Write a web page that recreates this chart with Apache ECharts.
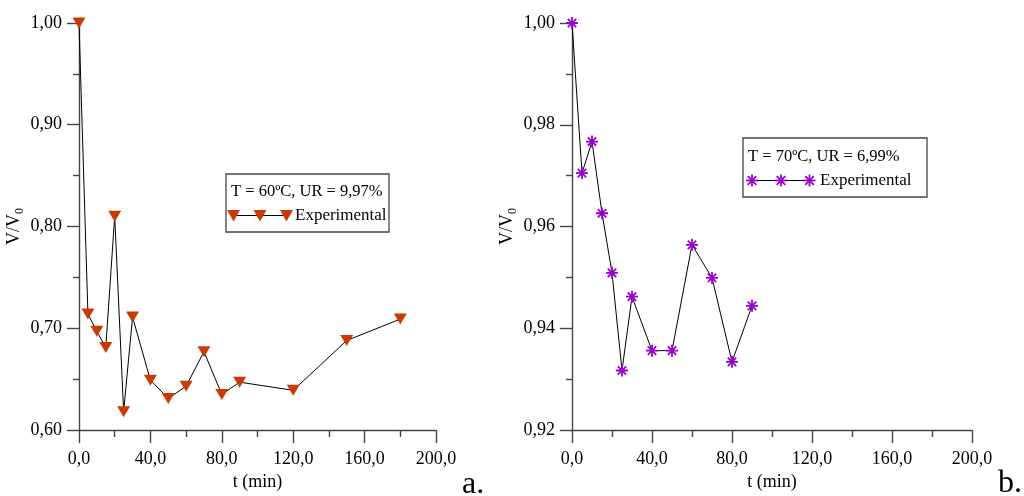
<!DOCTYPE html>
<html>
<head>
<meta charset="utf-8">
<script src="https://cdn.jsdelivr.net/npm/echarts@6/dist/echarts.min.js"></script>
<style>
  html, body { margin: 0; padding: 0; background: #fff; }
  #chart { width: 1024px; height: 496px; }
</style>
</head>
<body>
<div id="chart"></div>
<script>
// ---- data ----
const timeA = [0, 5, 10, 15, 20, 25, 30, 40, 50, 60, 70, 80, 90, 120, 150, 180];
const ratioA = [1.000, 0.714, 0.697, 0.681, 0.810, 0.618, 0.711, 0.649, 0.631, 0.643, 0.677, 0.635, 0.647, 0.639, 0.688, 0.709];
const timeB = [0, 5, 10, 15, 20, 25, 30, 40, 50, 60, 70, 80, 90];
const ratioB = [1.000, 0.9705, 0.9767, 0.9626, 0.9509, 0.9317, 0.9462, 0.9356, 0.9356, 0.9564, 0.9499, 0.9334, 0.9444];
const legendTitleA = 'T = 60ºC, UR = 9,97%';
const legendTitleB = 'T = 70ºC, UR = 6,99%';
const seriesName = 'Experimental';
const xName = 't (min)';
const panelLabels = ['a.', 'b.'];

const FONT = '"Liberation Serif", "Times New Roman", serif';
const AXIS_COLOR = '#444';
const RED = '#cc3a00';
const PURPLE = '#9b00d3';
const ASTERISK = 'path://M10,0L10,20M0,10L20,10M3,3L17,17M3,17L17,3';

const chart = echarts.init(document.getElementById('chart'), null, { renderer: 'canvas' });

function xAxisCfg(gridIndex) {
  return {
    type: 'value', gridIndex, min: 0, max: 200, interval: 40,
    name: xName, nameLocation: 'middle', nameGap: 38,
    nameTextStyle: { fontFamily: FONT, fontSize: 18, color: '#000' },
    axisLine: { show: true, onZero: false, lineStyle: { color: AXIS_COLOR, width: 1.4 } },
    axisTick: { show: true, length: 13, lineStyle: { color: AXIS_COLOR, width: 1.4 } },
    minorTick: { show: true, splitNumber: 2, length: 7, lineStyle: { color: AXIS_COLOR, width: 1.4 } },
    splitLine: { show: false },
    axisLabel: { fontFamily: FONT, fontSize: 18, color: '#000', margin: 20,
      formatter: v => v.toFixed(1).replace('.', ',') }
  };
}
function yAxisCfg(gridIndex, min, max, interval) {
  return {
    type: 'value', gridIndex, min, max, interval,
    name: '{a|V/V}{b|0}', nameLocation: 'middle', nameRotate: 90, nameGap: 53,
    nameTextStyle: {
      fontFamily: FONT, fontSize: 18, color: '#000',
      rich: {
        a: { fontFamily: FONT, fontSize: 18, color: '#000', lineHeight: 24, verticalAlign: 'middle' },
        b: { fontFamily: FONT, fontSize: 12, color: '#000', lineHeight: 12, verticalAlign: 'bottom' }
      }
    },
    axisLine: { show: true, onZero: false, lineStyle: { color: AXIS_COLOR, width: 1.4 } },
    axisTick: { show: true, length: 12, lineStyle: { color: AXIS_COLOR, width: 1.4 } },
    minorTick: { show: true, splitNumber: 2, length: 6, lineStyle: { color: AXIS_COLOR, width: 1.4 } },
    splitLine: { show: false },
    axisLabel: { fontFamily: FONT, fontSize: 18, color: '#000', margin: 17,
      formatter: v => v.toFixed(2).replace('.', ',') }
  };
}

function zip(xs, ys) { return xs.map((x, i) => [x, ys[i]]); }

// legend graphics
function legendBox(x, y, w, h, title, titleY, symY, symXs, textX, kind) {
  const els = [
    { type: 'rect', shape: { x, y, width: w, height: h }, style: { fill: '#fff', stroke: '#444', lineWidth: 1.3 }, z: 10 },
    { type: 'text', x: x + 5, y: titleY, z: 11,
      style: { text: title, font: '16.5px ' + FONT, fill: '#000', textAlign: 'left', textVerticalAlign: 'middle', align: 'left', verticalAlign: 'middle' } },
    { type: 'line', shape: { x1: symXs[0], y1: symY, x2: symXs[symXs.length - 1], y2: symY }, style: { stroke: '#000', lineWidth: 1 }, z: 11 },
    { type: 'text', x: textX, y: symY, z: 11,
      style: { text: seriesName, font: '17px ' + FONT, fill: '#000', textAlign: 'left', textVerticalAlign: 'middle', align: 'left', verticalAlign: 'middle' } }
  ];
  symXs.forEach(cx => {
    if (kind === 'tri') {
      els.push({ type: 'polygon', z: 12, shape: { points: [[cx - 6.5, symY - 5.5], [cx + 6.5, symY - 5.5], [cx, symY + 6]] }, style: { fill: RED } });
    } else {
      const r = 6, d = 4.3;
      [[0, -r, 0, r], [-r, 0, r, 0], [-d, -d, d, d], [-d, d, d, -d]].forEach(s => {
        els.push({ type: 'line', z: 12, shape: { x1: cx + s[0], y1: symY + s[1], x2: cx + s[2], y2: symY + s[3] }, style: { stroke: PURPLE, lineWidth: 1.8 } });
      });
    }
  });
  return els;
}

const graphics = []
  .concat(legendBox(226, 174, 163, 58, legendTitleA, 192, 215.5, [233.5, 260, 286.5], 295, 'tri'))
  .concat(legendBox(743, 138, 184, 59, legendTitleB, 156.5, 180.5, [752, 781, 809.5], 820, 'star'))
  .concat([
    { type: 'text', x: 462, y: 501, style: { text: panelLabels[0], font: '32px ' + FONT, fill: '#000', textAlign: 'left', textVerticalAlign: 'bottom', align: 'left', verticalAlign: 'bottom' } },
    { type: 'text', x: 998, y: 500, style: { text: panelLabels[1], font: '32px ' + FONT, fill: '#000', textAlign: 'left', textVerticalAlign: 'bottom', align: 'left', verticalAlign: 'bottom' } }
  ]);

chart.setOption({
  animation: false,
  backgroundColor: '#fff',
  grid: [
    { left: 79, top: 23, width: 357, height: 407, containLabel: false },
    { left: 572, top: 23, width: 400, height: 407, containLabel: false }
  ],
  xAxis: [xAxisCfg(0), xAxisCfg(1)],
  yAxis: [yAxisCfg(0, 0.6, 1.0, 0.1), yAxisCfg(1, 0.92, 1.0, 0.02)],
  series: [
    { type: 'line', name: seriesName, xAxisIndex: 0, yAxisIndex: 0, data: zip(timeA, ratioA),
      symbol: 'triangle', symbolRotate: 180, symbolSize: [13, 11], showSymbol: true,
      itemStyle: { color: RED }, lineStyle: { color: '#000', width: 1 }, z: 3 },
    { type: 'line', name: seriesName, xAxisIndex: 1, yAxisIndex: 1, data: zip(timeB, ratioB),
      symbol: ASTERISK, symbolSize: 12, showSymbol: true,
      itemStyle: { color: PURPLE, borderColor: PURPLE, borderWidth: 1.8 }, lineStyle: { color: '#000', width: 1 }, z: 3 }
  ],
  graphic: graphics
});
</script>
</body>
</html>
